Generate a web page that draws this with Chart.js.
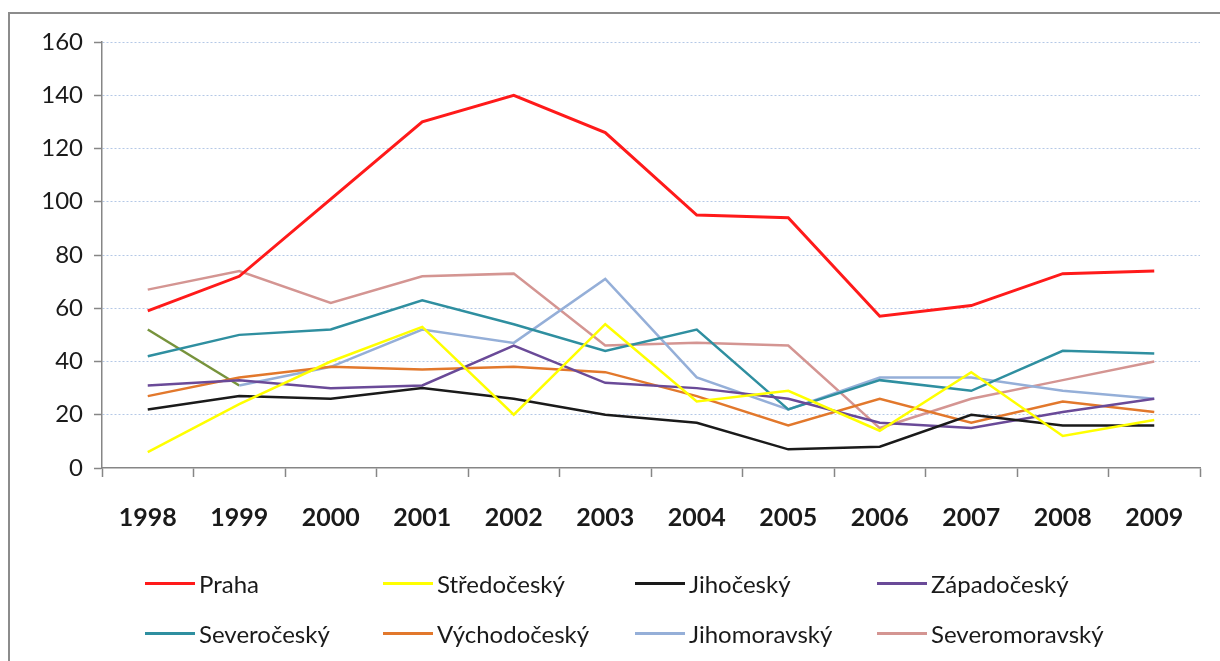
<!DOCTYPE html>
<html>
<head>
<meta charset="utf-8">
<script src="https://cdn.jsdelivr.net/npm/chart.js@4"></script>
<style>
  html, body { margin: 0; padding: 0; background: #fff; overflow: hidden; }
  #frame { position: absolute; left: 8px; top: 12px; width: 1240px; height: 680px; border: 2px solid #8c8c8c; box-sizing: border-box; }
  #wrap { position: absolute; left: 0; top: 0; width: 1220px; height: 661px; }
  #legend { position: absolute; left: 0; top: 0; width: 1220px; height: 661px; pointer-events: none;
    font-family: Lato, "Open Sans", sans-serif; font-size: 24px; color: #1a1a1a; }
  .item { position: absolute; display: flex; align-items: center; height: 30px; }
  .swatch { width: 50px; height: 3px; margin-right: 4px; }
</style>
</head>
<body>
<div id="frame"></div>
<div id="wrap"><canvas id="chart" width="1220" height="661"></canvas></div>
<div id="legend"></div>
<script>
const years = ["1998", "1999", "2000", "2001", "2002", "2003", "2004", "2005", "2006", "2007", "2008", "2009"];

const praha = [59, 72, 101, 130, 140, 126, 95, 94, 57, 61, 73, 74];
const stredocesky = [6, 24, 40, 53, 20, 54, 25, 29, 14, 36, 12, 18];
const jihocesky = [22, 27, 26, 30, 26, 20, 17, 7, 8, 20, 16, 16];
const zapadocesky = [31, 33, 30, 31, 46, 32, 30, 26, 17, 15, 21, 26];
const severocesky = [42, 50, 52, 63, 54, 44, 52, 22, 33, 29, 44, 43];
const vychodocesky = [27, 34, 38, 37, 38, 36, 27, 16, 26, 17, 25, 21];
const jihomoravsky = [null, 31, 38, 52, 47, 71, 34, 22, 34, 34, 29, 26];
const severomoravsky = [67, 74, 62, 72, 73, 46, 47, 46, 15, 26, 33, 40];
const unlabelled = [52, 31, null, null, null, null, null, null, null, null, null, null];

const yTicks = [0, 20, 40, 60, 80, 100, 120, 140, 160];

const series = [
  { label: "Praha", data: praha, color: "#ff1a1a", width: 3 },
  { label: "Středočeský", data: stredocesky, color: "#ffff00", width: 2.5 },
  { label: "Jihočeský", data: jihocesky, color: "#1a1a1a", width: 2.5 },
  { label: "Západočeský", data: zapadocesky, color: "#6a4a98", width: 2.5 },
  { label: "Severočeský", data: severocesky, color: "#2f8fa0", width: 2.5 },
  { label: "Východočeský", data: vychodocesky, color: "#e2782c", width: 2.5 },
  { label: "Jihomoravský", data: jihomoravsky, color: "#95afd8", width: 2.5 },
  { label: "Severomoravský", data: severomoravsky, color: "#d49592", width: 2.5 },
  { label: "", data: unlabelled, color: "#77933c", width: 2.5 }
];

const grey = "#868686";

new Chart(document.getElementById("chart"), {
  type: "line",
  data: {
    labels: years,
    datasets: series.map(s => ({
      label: s.label,
      data: s.data,
      borderColor: s.color,
      backgroundColor: s.color,
      borderWidth: s.width,
      pointRadius: 0,
      tension: 0,
      fill: false,
      spanGaps: false
    }))
  },
  options: {
    responsive: false,
    animation: false,
    layout: { padding: { top: 42, right: 20, left: 0, bottom: 0 } },
    plugins: { legend: { display: false }, tooltip: { enabled: false } },
    scales: {
      x: {
        offset: true,
        grid: { offset: true, drawOnChartArea: false, drawTicks: true, tickLength: 9, tickColor: grey, tickWidth: 1.5 },
        border: { color: grey, width: 1.5 },
        ticks: {
          color: "#1a1a1a",
          padding: 26,
          maxRotation: 0,
          font: { family: "Lato", size: 25, weight: "bold" }
        },
        afterFit(s) { s.height = 661 - 468; }
      },
      y: {
        min: 0,
        max: 160,
        afterBuildTicks(s) { s.ticks = yTicks.map(v => ({ value: v })); },
        grid: {
          color: c => (c.tick && c.tick.value === 0) ? "rgba(0,0,0,0)" : "#b4c8e6",
          lineWidth: 1,
          drawTicks: true,
          tickLength: 8,
          tickColor: grey,
          tickWidth: 1.5
        },
        border: { color: grey, width: 1.5, dash: [2, 2] },
        ticks: {
          color: "#1a1a1a",
          padding: 11,
          font: { family: "Lato", size: 24 }
        },
        afterFit(s) { s.width = 102; }
      }
    }
  }
});

// legend: 4 columns, 2 rows
const colX = [145, 383, 635, 877];
const rowY = [583, 633];
const legend = document.getElementById("legend");
series.filter(s => s.label).forEach((s, i) => {
  const item = document.createElement("div");
  item.className = "item";
  item.style.left = colX[i % 4] + "px";
  item.style.top = (rowY[Math.floor(i / 4)] - 15) + "px";
  const sw = document.createElement("span");
  sw.className = "swatch";
  sw.style.background = s.color;
  const tx = document.createElement("span");
  tx.textContent = s.label;
  item.appendChild(sw);
  item.appendChild(tx);
  legend.appendChild(item);
});
</script>
</body>
</html>
